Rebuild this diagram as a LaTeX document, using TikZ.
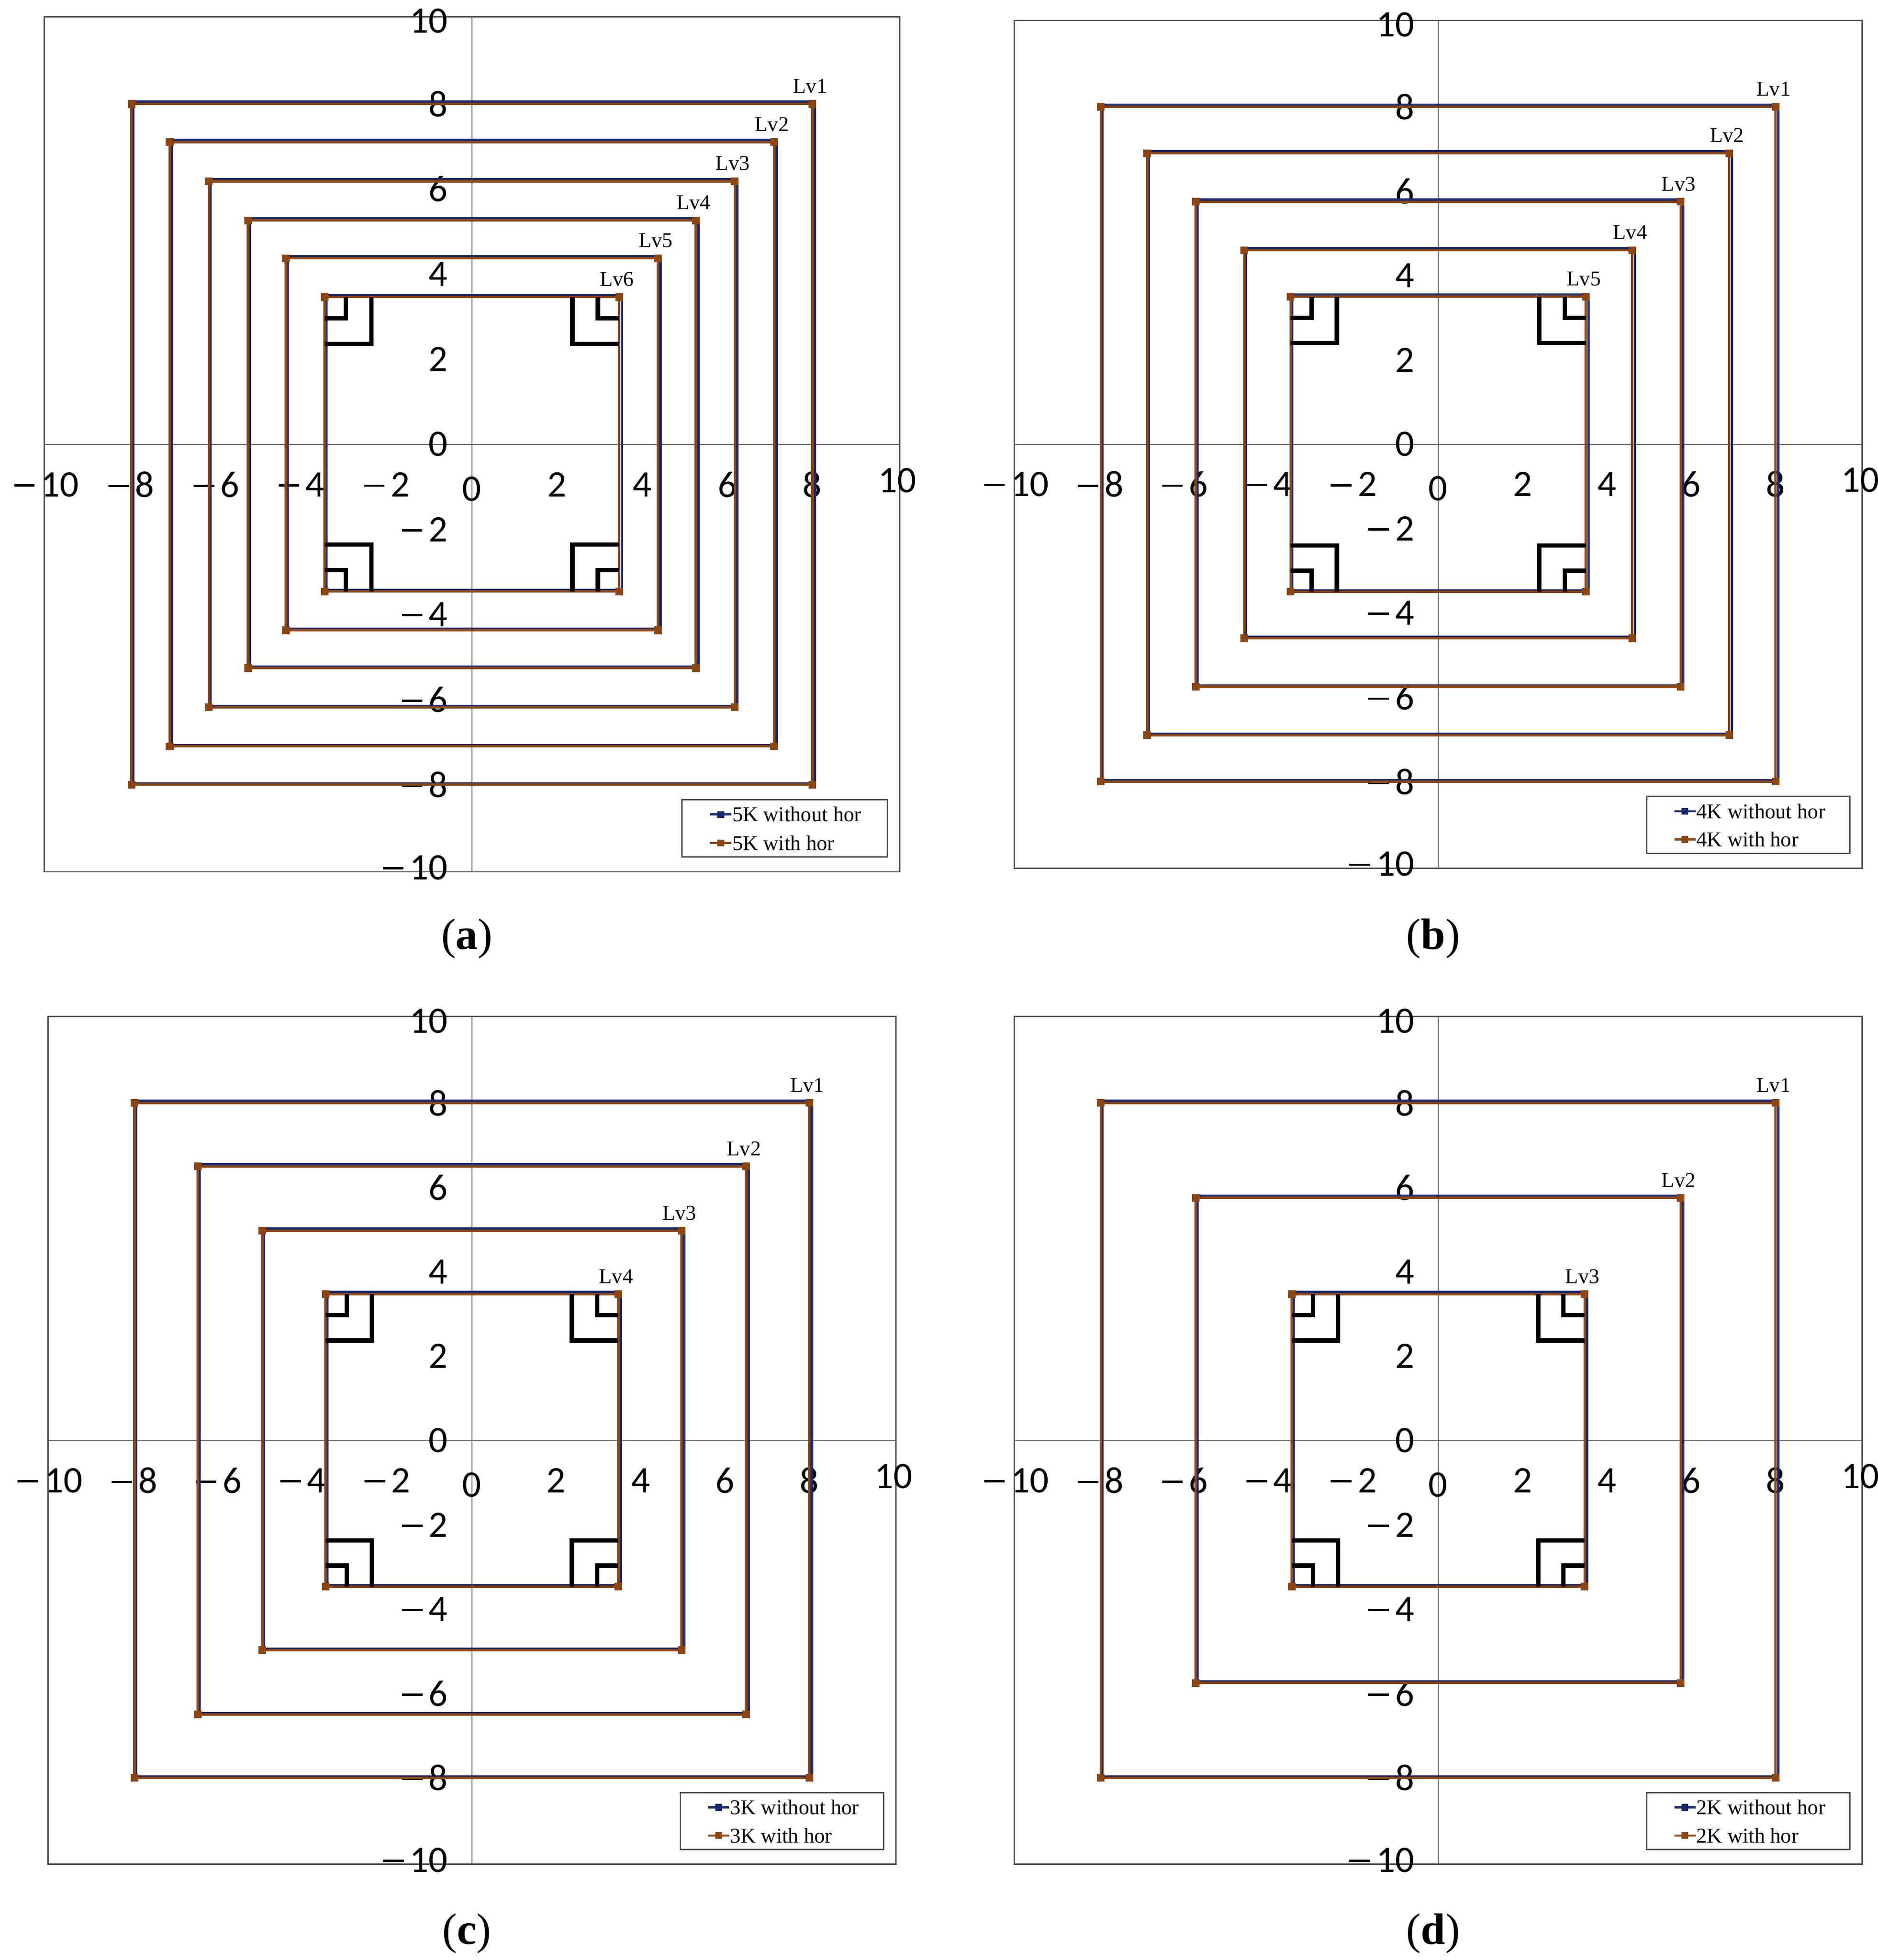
\documentclass[tikz,border=0pt]{standalone}
\usepackage{fontspec}
\setmainfont{Liberation Serif}
\newfontfamily\tickfont{Carlito}
\definecolor{cblue}{RGB}{25,40,110}
\definecolor{corange}{RGB}{140,70,20}
\newcommand{\mymin}{\rule[0.27em]{0.55em}{0.06em}\,}
\tikzset{
  frm/.style={draw=black!70,line width=0.3pt},
  axl/.style={draw=black!60,line width=0.2pt},
  bl/.style={draw=cblue,line width=0.55pt},
  orl/.style={draw=corange,line width=0.55pt},
  brk/.style={draw=black,line width=1pt},
  ticklab/.style={font=\tickfont\fontsize{8.5}{9}\selectfont,inner sep=0pt},
  lvl/.style={font=\fontsize{4.8}{5}\selectfont,inner sep=0pt},
  leg/.style={font=\fontsize{4.8}{5}\selectfont,inner sep=0pt,anchor=west},
  captxt/.style={font=\fontsize{10}{12}\selectfont}
}
\newcommand{\mypanel}[6]{%
\begin{scope}[shift={(#1,#2)},x=#3cm,y=#3cm]
 \draw[frm] (-10.05,-10.05) rectangle (10.05,10.05);
 \draw[axl] (-10.05,0) -- (10.05,0);
 \draw[axl] (0,-10.05) -- (0,10.05);
 \foreach \v in {-10,-8,-6,-4,-2,2,4,6,8}{
   \pgfmathtruncatemacro{\a}{abs(\v)}
   \ifnum\v<0 \node[ticklab] at (\v,-0.95) {\mymin\a};\else\node[ticklab] at (\v,-0.95) {\a};\fi
 }
 \foreach \v in {-8,-6,-4,-2,2,4,6,8}{
   \pgfmathtruncatemacro{\a}{abs(\v)}
   \ifnum\v<0 \node[ticklab,anchor=east] at (-0.55,\v) {\mymin\a};\else\node[ticklab,anchor=east] at (-0.55,\v) {\a};\fi
 }
 \node[ticklab] at (0,-1.05) {0};
 \node[ticklab] at (10,-0.85) {10};
 \node[ticklab,anchor=east] at (-0.55,0) {0};
 \node[ticklab,anchor=east] at (-0.55,9.95) {10};
 \node[ticklab,anchor=east] at (-0.55,-9.95) {\mymin10};
 \foreach \l [count=\i] in {#4}{
   \draw[bl] (-\l+0.04,-\l+0.03) rectangle (\l+0.06,\l+0.05);
   \draw[orl] (-\l,-\l) rectangle (\l,\l);
   \foreach \p in {(-\l,-\l),(-\l,\l),(\l,-\l),(\l,\l)}
     \fill[corange] \p ++(-0.09,-0.09) rectangle ++(0.18,0.18);
   \node[lvl] at (\l-0.05,\l+0.42) {Lv\i};
 }
 \foreach \sx/\sy in {1/1,-1/1,1/-1,-1/-1}{
   \draw[brk] (\sx*#5,\sy*#5-\sy*1.1) -- (\sx*#5-\sx*1.1,\sy*#5-\sy*1.1) -- (\sx*#5-\sx*1.1,\sy*#5);
   \draw[brk] (\sx*#5,\sy*#5-\sy*0.5) -- (\sx*#5-\sx*0.5,\sy*#5-\sy*0.5) -- (\sx*#5-\sx*0.5,\sy*#5);
 }
 \draw[frm] (4.94,-8.35) rectangle (9.76,-9.7);
 \draw[draw=cblue,line width=0.5pt] (5.6,-8.7) -- (6.1,-8.7);
 \fill[cblue] (5.85,-8.7) ++(-0.08,-0.08) rectangle ++(0.16,0.16);
 \node[leg] at (6.1,-8.7) {#6 without hor};
 \draw[draw=corange,line width=0.5pt] (5.6,-9.37) -- (6.1,-9.37);
 \fill[corange] (5.85,-9.37) ++(-0.08,-0.08) rectangle ++(0.16,0.16);
 \node[leg] at (6.1,-9.37) {#6 with hor};
\end{scope}}
\begin{document}
\begin{tikzpicture}
\useasboundingbox (0,0) rectangle (15,-15.662);
\fill[white] (0,0) rectangle (15,-15.662);
\mypanel{3.77}{-3.55}{0.34}{8,7.1,6.18,5.26,4.37,3.46}{3.46}{5K}
\mypanel{11.49}{-3.55}{0.337}{8,6.9,5.75,4.6,3.5}{3.5}{4K}
\mypanel{3.77}{-11.51}{0.337}{8,6.5,4.97,3.47}{3.47}{3K}
\mypanel{11.49}{-11.51}{0.337}{8,5.75,3.47}{3.47}{2K}
\node[captxt] (ca) at (3.73,-7.5) {(\textbf{a})};
\node[captxt] (cb) at (11.45,-7.5) {(\textbf{b})};
\node[captxt] (cc) at (3.73,-15.45) {(\textbf{c})};
\node[captxt] (cd) at (11.45,-15.45) {(\textbf{d})};
\end{tikzpicture}
\end{document}
